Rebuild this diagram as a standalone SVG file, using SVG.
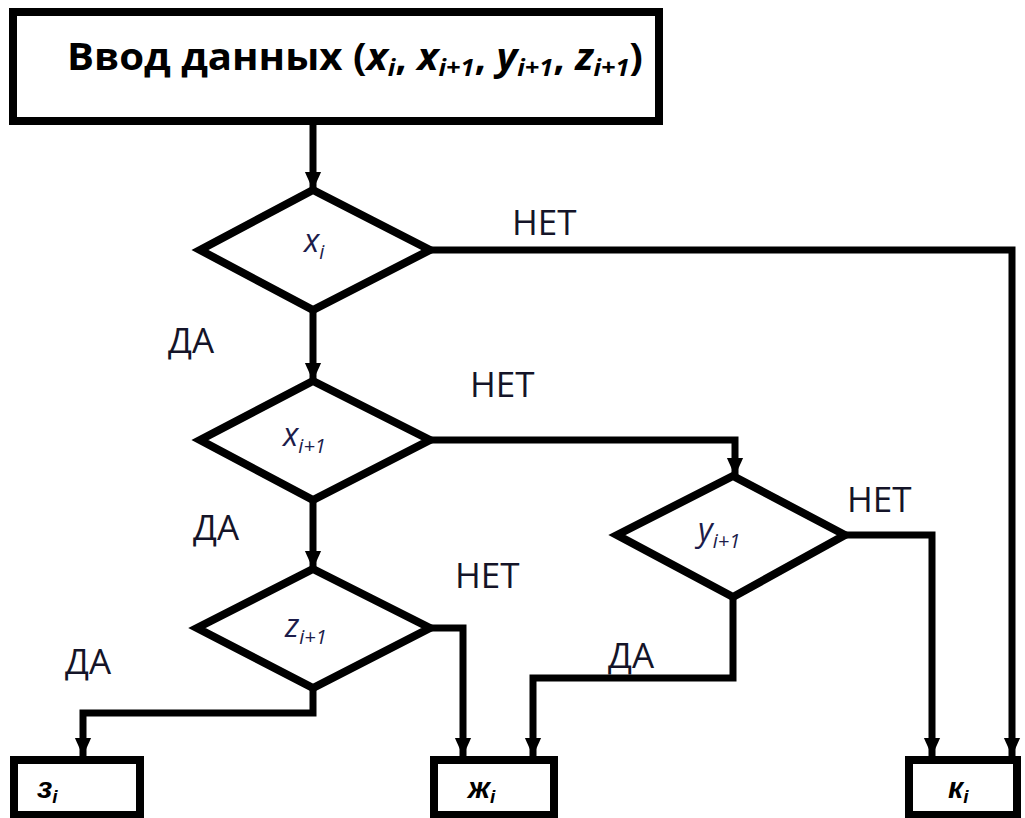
<svg xmlns="http://www.w3.org/2000/svg" width="1025" height="818" viewBox="0 0 1025 818">
<defs>
<style>
.box{fill:#fff;stroke:#000;stroke-width:8}
.dia{fill:#fff;stroke:#000;stroke-width:8;stroke-linejoin:miter}
.con{fill:none;stroke:#000;stroke-width:7;stroke-linejoin:miter}
.lbl{font-family:"Open Sans","Liberation Sans",sans-serif;font-size:35px;fill:#141428}
.var{font-family:"Open Sans","Liberation Sans",sans-serif;font-style:italic;font-size:32px;fill:#1c1c4a}
.sub{font-size:20px}
.res{font-family:"Liberation Sans",Arial,sans-serif;font-weight:bold;font-style:italic;font-size:30px;fill:#000}
.title{font-family:"Open Sans","Liberation Sans",sans-serif;font-weight:bold;font-size:38px;fill:#000}
</style>
<marker id="ah" markerUnits="userSpaceOnUse" markerWidth="20" markerHeight="24" refX="20" refY="9" orient="auto" viewBox="0 0 22 18">
<path d="M0,0 L20,9 L0,18 Z" fill="#000"/>
</marker>
</defs>
<rect width="1025" height="818" fill="#fff"/>

<g id="connectors">
<line class="con" x1="313" y1="122" x2="313" y2="190" marker-end="url(#ah)"/>
<polyline class="con" points="430,250 1012,250 1012,756" marker-end="url(#ah)"/>
<line class="con" x1="313" y1="310" x2="313" y2="381" marker-end="url(#ah)"/>
<polyline class="con" points="430,440 735,440 735,476" marker-end="url(#ah)"/>
<polyline class="con" points="845,535 932,535 932,756" marker-end="url(#ah)"/>
<line class="con" x1="313" y1="500" x2="313" y2="569" marker-end="url(#ah)"/>
<polyline class="con" points="430,628 463,628 463,756" marker-end="url(#ah)"/>
<polyline class="con" points="313,688 313,713 83,713 83,756" marker-end="url(#ah)"/>
<polyline class="con" points="733,597 733,678 533,678 533,756" marker-end="url(#ah)"/>
</g>

<g id="input">
<rect class="box" x="13" y="12" width="646" height="109"/>
<text class="title" x="67" y="70" textLength="576" lengthAdjust="spacingAndGlyphs">Ввод данных (<tspan font-style="italic">x</tspan><tspan font-style="italic" font-size="24" dy="6">i</tspan><tspan dy="-6">, </tspan><tspan font-style="italic">x</tspan><tspan font-style="italic" font-size="24" dy="6">i+1</tspan><tspan dy="-6">, </tspan><tspan font-style="italic">y</tspan><tspan font-style="italic" font-size="24" dy="6">i+1</tspan><tspan dy="-6">, </tspan><tspan font-style="italic">z</tspan><tspan font-style="italic" font-size="24" dy="6">i+1</tspan><tspan dy="-6">)</tspan></text>
</g>

<g id="d_xi">
<polygon class="dia" points="313,190 430,250 313,310 200,250"/>
<text class="var" x="304" y="252">x<tspan class="sub" dy="7">i</tspan></text>
</g>

<g id="d_xi1">
<polygon class="dia" points="313,381 430,440 313,500 200,440"/>
<text class="var" x="283" y="446">x<tspan class="sub" dy="7">i+1</tspan></text>
</g>

<g id="d_yi1">
<polygon class="dia" points="733,476 845,535 733,597 617,535"/>
<text class="var" x="698" y="541">y<tspan class="sub" dy="7">i+1</tspan></text>
</g>

<g id="d_zi1">
<polygon class="dia" points="313,569 430,628 313,688 197,628"/>
<text class="var" x="285" y="637">z<tspan class="sub" dy="7">i+1</tspan></text>
</g>

<g id="labels">
<text class="lbl" x="512" y="235">НЕТ</text>
<text class="lbl" x="168" y="353">ДА</text>
<text class="lbl" x="470" y="397">НЕТ</text>
<text class="lbl" x="193" y="540">ДА</text>
<text class="lbl" x="847" y="512">НЕТ</text>
<text class="lbl" x="455" y="588">НЕТ</text>
<text class="lbl" x="65" y="674">ДА</text>
<text class="lbl" x="608" y="668">ДА</text>
</g>

<g id="r_z">
<rect class="box" x="14" y="760" width="126" height="55"/>
<text class="res" x="37" y="798">з<tspan font-size="19" dy="5">i</tspan></text>
</g>
<g id="r_zh">
<rect class="box" x="434" y="760" width="120" height="55"/>
<text class="res" x="468" y="798">ж<tspan font-size="19" dy="5">i</tspan></text>
</g>
<g id="r_k">
<rect class="box" x="909" y="760" width="108" height="55"/>
<text class="res" x="948" y="798">к<tspan font-size="19" dy="5">i</tspan></text>
</g>
</svg>
